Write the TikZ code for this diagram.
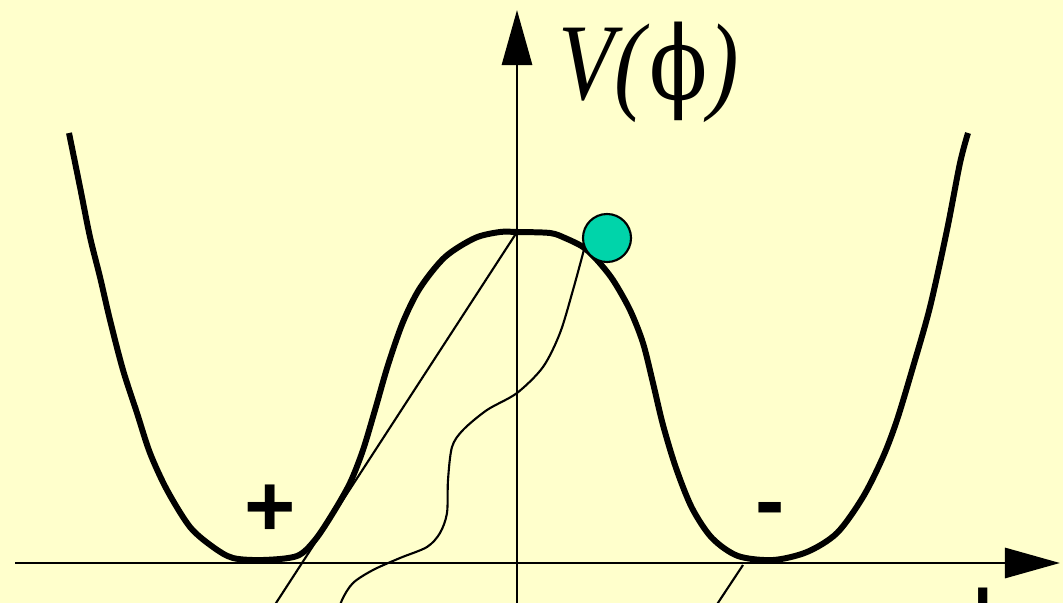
\documentclass[tikz,border=0pt]{standalone}
\usepackage{fontspec}
\setmainfont{Liberation Serif}
\newfontfamily\signfont{Liberation Sans}
\newfontfamily\greekfont{DejaVu Serif}
\usetikzlibrary{arrows.meta}
\definecolor{paper}{HTML}{FFFFCC}
\definecolor{ballgreen}{HTML}{00D4AA}

\begin{document}
\begin{tikzpicture}[x=0.01cm, y=-0.01cm,
  axis/.style={line width=0.85pt, -{Triangle[length=0.55cm, width=0.3cm]}},
  well/.style={line width=1.7pt, line join=round},
  track/.style={line width=0.6pt},
  ball/.style={circle, draw, line width=0.6pt, fill=ballgreen,
               minimum size=0.48cm, inner sep=0pt},
  signtext/.style={font=\signfont\bfseries\fontsize{25}{25}\selectfont, inner sep=0pt},
  axislabel/.style={font=\fontsize{31}{31}\selectfont, inner sep=0pt}
]
\fill[paper] (0,0) rectangle (1063,603);
\useasboundingbox (0,0) rectangle (1063,603);
\clip (0,0) rectangle (1063,603);

% axes
\coordinate (xstart) at (15,563);
\coordinate (xend)   at (1060,563);
\coordinate (ystart) at (517,620);
\coordinate (yend)   at (517,10);
\draw[axis] (xstart) -- (xend);
\draw[axis] (ystart) -- (yend);

% double well
\draw[well] plot[smooth] coordinates {
  (69,133) (80,187) (90,237) (100,277) (110,320) (123,370) (137,413)
  (150,453) (167,490) (190,527) (213,547) (233,558) (263,560) (297,556)
  (315,540) (333,513) (350,483) (363,450) (375,410) (388,365) (403,322)
  (420,288) (445,257) (475,238) (500,232) (517,232) (550,233) (565,238)
  (583,247) (597,260) (613,280) (630,310) (643,343) (653,383) (663,425)
  (676,468) (692,508) (712,538) (738,556) (773,560) (807,552) (837,533)
  (863,497) (883,457) (897,420) (913,367) (930,307) (947,230) (960,163)
  (968,133)};

\node[axislabel, anchor=base west] (vlabel) at (558,100)
     {\scalebox{0.84}[1]{\textit{V(}{\greekfont\fontsize{29}{29}\selectfont ϕ}\textit{)}}};
\node[axislabel, anchor=north] (philabel) at (983,587)
     {\greekfont\fontsize{29}{29}\selectfont ϕ};
\node[signtext] (plus) at (270,511) {+};
\node[signtext, anchor=base] (minus) at (770,530) {-};

% paths
\coordinate (peak)  at (517,232);
\coordinate (lowA)  at (252,640);
\coordinate (edgeB) at (743,565);
\coordinate (lowB)  at (700,630);
\node[ball] (ball) at (607,238) {};
\draw[track] (peak) -- (lowA);
\draw[track] (edgeB) -- (lowB);
\draw[track] plot[smooth] coordinates {
  (ball.205) (573,290) (560,333) (543,367) (517,393) (487,410) (463,430)
  (452,447) (448,480) (447,513) (440,533) (427,547) (400,558) (373,570)
  (353,583) (342,600) (336,620)};
\end{tikzpicture}
\end{document}
